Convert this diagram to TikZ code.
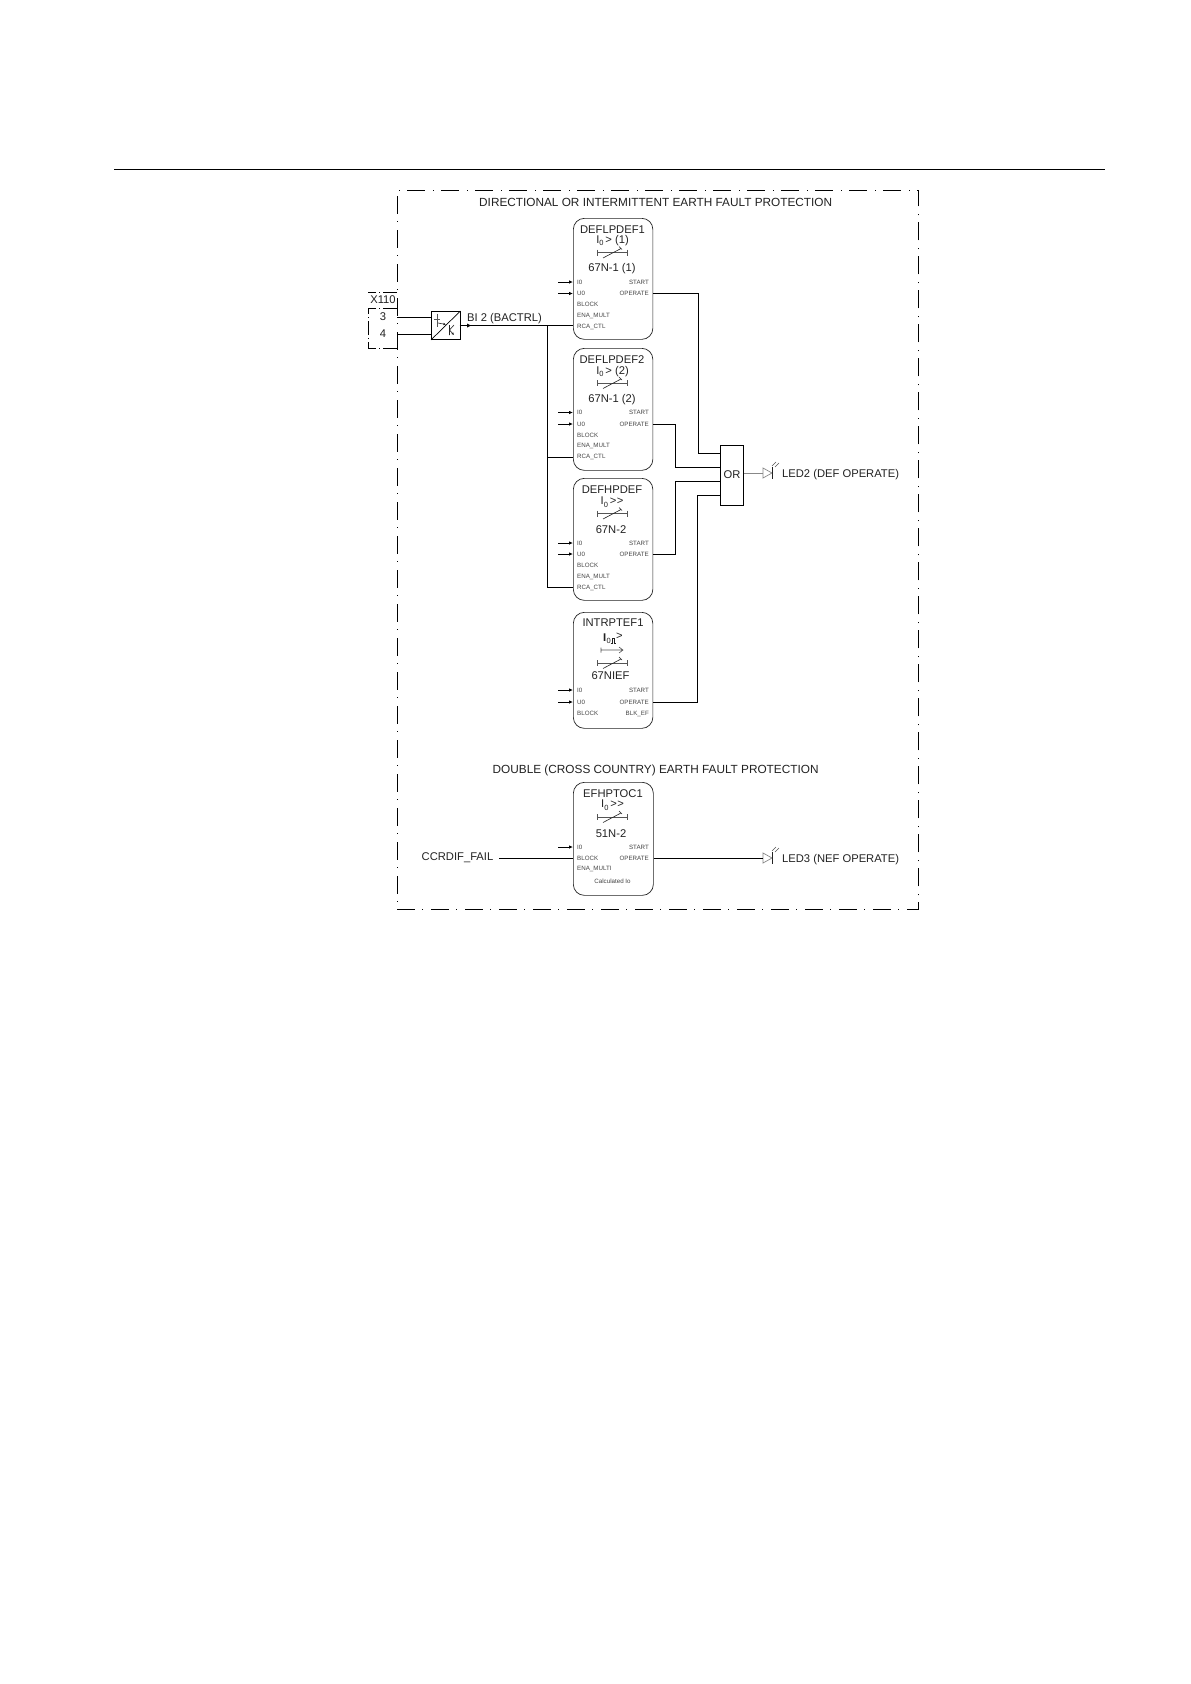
\documentclass[tikz,border=0pt]{standalone}
\usepackage{fontspec}
\setmainfont{Liberation Sans}
\usetikzlibrary{arrows.meta}
\definecolor{inkc}{HTML}{222222}
\definecolor{smallc}{HTML}{444444}
\definecolor{symc}{HTML}{555555}
\definecolor{ledc}{HTML}{888888}
\tikzset{
  wire/.style={draw=black,line width=0.85pt},
  thinwire/.style={draw=symc,line width=0.6pt},
  ledwire/.style={draw=ledc,line width=0.7pt},
  blockbox/.style={draw=inkc,line width=0.7pt,rounded corners=11pt,minimum width=79.5pt,inner sep=0pt,anchor=north west},
  framebox/.style={draw=black,line width=0.9pt,dash pattern=on 18pt off 7pt on 1pt off 8pt,inner sep=0pt,anchor=north west,minimum width=521pt,minimum height=719.5pt},
  txt/.style={font=\fontsize{11.2}{12}\selectfont,text=inkc,inner sep=0pt},
  headtxt/.style={font=\fontsize{11.8}{13}\selectfont,text=inkc,inner sep=0pt,anchor=west},
  leftport/.style={font=\fontsize{6.2}{7}\selectfont,text=smallc,inner sep=0pt,anchor=west},
  rightport/.style={font=\fontsize{6.2}{7}\selectfont,text=smallc,inner sep=0pt,anchor=east},
  feed/.style={draw=black,line width=0.85pt,-{Latex[length=4pt,width=3.5pt]}},
}
\newcommand{\relaysym}[2]{%
  \draw[thinwire] (#1-15,#2-3)--(#1-15,#2+3) (#1+15,#2-3)--(#1+15,#2+3) (#1-15,#2)--(#1+15,#2);
  \draw[draw=inkc,line width=0.6pt] (#1-9,#2+5.5)--(#1+9,#2-4) (#1+7,#2-6)--(#1+10,#2-3);}
\newcommand{\ledsym}[2]{%
  \draw[ledwire] (#1,#2-5)--(#1,#2+5)--(#1+9,#2)--cycle;
  \draw[draw=inkc,line width=0.7pt] (#1+9,#2-6)--(#1+9,#2+6);
  \draw[thinwire] (#1+9,#2-7)--(#1+13,#2-11) (#1+12,#2-6)--(#1+16,#2-10);}
\newcommand{\iosub}[1]{I\raisebox{-2.5pt}{\fontsize{7.5}{8}\selectfont 0}\,#1}
\newcommand{\twogt}{{>}\kern0.5pt{>}}
\begin{document}
\begin{tikzpicture}[x=1pt,y=-1pt]
\useasboundingbox (0,0) rectangle (1191,1684);
\fill[white] (0,0) rectangle (1191,1684);
\draw[line width=1pt] (114,169.5)--(1105,169.5);

% frame and titles
\node[framebox] (frame) at (397,189.5) {};
\node[headtxt] (title1) at (479,202.5) {DIRECTIONAL OR INTERMITTENT EARTH FAULT PROTECTION};
\node[headtxt] (title2) at (492.5,770) {DOUBLE (CROSS COUNTRY) EARTH FAULT PROTECTION};

% X110 terminal
\draw[draw=black,line width=0.7pt,dash pattern=on 14pt off 3pt on 1pt off 3pt] (397,292)--(368,292);
\draw[draw=black,line width=0.7pt,dash pattern=on 14pt off 3pt on 1pt off 3pt] (397,308)--(368,308)--(368,348)--(397,348);
\node[txt] (x110) at (383,300) {X110};
\node[txt] (t3) at (383,317) {3};
\node[txt] (t4) at (383,334) {4};
\coordinate (t3e) at (397,317);
\coordinate (t4e) at (397,334.5);

% optocoupler
\node[draw=black,line width=0.9pt,minimum width=28.5pt,minimum height=28pt,inner sep=0pt,anchor=north west] (opto) at (431,311) {};
\draw[line width=0.7pt] (opto.south west)--(opto.north east);
\draw[draw=symc,line width=0.6pt] (434,319.5)--(440,319.5) (437.5,313.5)--(437.5,326.5);
\draw[draw=inkc,line width=0.6pt,-{Latex[length=2.5pt,width=2.5pt]}] (438,323)--(446,324.5);
\draw[draw=inkc,line width=0.6pt] (449.5,325)--(449.5,335) (449.5,330)--(454,325);
\draw[draw=inkc,line width=0.6pt,-{Latex[length=2.5pt,width=2.5pt]}] (449.5,330)--(454,335);
\draw[wire] (t3e)--(opto.west |- t3e);
\draw[wire] (t4e)--(opto.west |- t4e);
\node[txt,anchor=west] (bi2) at (467,318.5) {BI 2 (BACTRL)};

% DEFLPDEF1
\node[blockbox,minimum height=121pt] (d1) at (573,218) {};
\node[txt] (d1t) at (612.5,229.5) {DEFLPDEF1};
\node[txt] (d1i) at (612.5,240.5) {\iosub{> (1)}};
\relaysym{612}{252.5}
\node[txt] (d1n) at (612,269) {67N-1 (1)};
\node[leftport] (d1a) at (577,282) {I0};
\node[leftport] (d1b) at (577,293.5) {U0};
\node[leftport] at (577,304.5) {BLOCK};
\node[leftport] at (577,316) {ENA\_MULT};
\node[leftport] (d1c) at (577,327) {RCA\_CTL};
\node[rightport] at (649,282) {START};
\node[rightport] (d1o) at (649,293.5) {OPERATE};

% DEFLPDEF2
\node[blockbox,minimum height=122pt] (d2) at (573,348) {};
\node[txt] (d2t) at (612,360) {DEFLPDEF2};
\node[txt] (d2i) at (612.5,371.5) {\iosub{> (2)}};
\relaysym{612}{383}
\node[txt] (d2n) at (612,399.5) {67N-1 (2)};
\node[leftport] (d2a) at (577,412.5) {I0};
\node[leftport] (d2b) at (577,424) {U0};
\node[leftport] at (577,435) {BLOCK};
\node[leftport] at (577,446) {ENA\_MULT};
\node[leftport] (d2c) at (577,457) {RCA\_CTL};
\node[rightport] at (649,412.5) {START};
\node[rightport] (d2o) at (649,424) {OPERATE};

% DEFHPDEF
\node[blockbox,minimum height=122pt] (d3) at (573,478) {};
\node[txt] (d3t) at (612,490) {DEFHPDEF};
\node[txt] (d3i) at (612,502) {\iosub{\twogt}};
\relaysym{612}{513.5}
\node[txt] (d3n) at (611,530) {67N-2};
\node[leftport] (d3a) at (577,543) {I0};
\node[leftport] (d3b) at (577,554) {U0};
\node[leftport] at (577,565.5) {BLOCK};
\node[leftport] at (577,576.5) {ENA\_MULT};
\node[leftport] (d3c) at (577,587.5) {RCA\_CTL};
\node[rightport] at (649,543) {START};
\node[rightport] (d3o) at (649,554) {OPERATE};

% INTRPTEF1
\node[blockbox,minimum height=116pt] (d4) at (573,612) {};
\node[txt] (d4t) at (613,623) {INTRPTEF1};
\node[txt,anchor=west] (d4i) at (603,638) {\bfseries I};
\node[anchor=west,inner sep=0pt,font=\fontsize{7.5}{8}\selectfont,text=inkc] (d4z) at (606.5,641) {0};
\draw[draw=inkc,line width=0.6pt] (610.5,643)--(612,643)--(612,638.5)--(614.5,638.5)--(614.5,643)--(616,643);
\node[txt,anchor=west] (d4g) at (616,636.5) {>};
\draw[thinwire] (601,647.5)--(601,652.5) (601,650)--(623,650) (619,647)--(623,650)--(619,653);
\relaysym{612}{663}
\node[txt] (d4n) at (610.5,676) {67NIEF};
\node[leftport] (d4a) at (577,690) {I0};
\node[leftport] (d4b) at (577,702) {U0};
\node[leftport] at (577,713.5) {BLOCK};
\node[rightport] at (649,690) {START};
\node[rightport] (d4o) at (649,702) {OPERATE};
\node[rightport] at (649,713.5) {BLK\_EF};

% EFHPTOC1
\node[blockbox,minimum width=80pt,minimum height=113pt] (d5) at (573,782) {};
\node[txt] (d5t) at (613,794) {EFHPTOC1};
\node[txt] (d5i) at (612.5,805) {\iosub{\twogt}};
\relaysym{612}{817}
\node[txt] (d5n) at (611,834) {51N-2};
\node[leftport] (d5a) at (577,847) {I0};
\node[leftport] (d5b) at (577,858) {BLOCK};
\node[leftport] at (577,869) {ENA\_MULTI};
\node[font=\fontsize{6.2}{7}\selectfont,text=smallc,inner sep=0pt] (d5k) at (612.5,881) {Calculated Io};
\node[rightport] at (649,847) {START};
\node[rightport] (d5o) at (649,858) {OPERATE};
\node[txt,anchor=east] (ccr) at (493.5,858) {CCRDIF\_FAIL};

% OR gate
\node[draw=black,line width=0.9pt,minimum width=23pt,minimum height=60pt,inner sep=0pt,anchor=north west,font=\fontsize{11.2}{12}\selectfont,text=inkc] (orgate) at (720,444.5) {OR};
\coordinate (or1) at (720,453.5);
\coordinate (or2) at (720,467);
\coordinate (or3) at (720,481);
\coordinate (or4) at (720,495);

% LEDs
\coordinate (led2) at (763,473);
\coordinate (led3) at (763,858);
\ledsym{763}{473}
\ledsym{763}{858}
\node[txt,anchor=west] (led2t) at (782,474.5) {LED2 (DEF OPERATE)};
\node[txt,anchor=west] (led3t) at (782,859.5) {LED3 (NEF OPERATE)};

% BI bus
\coordinate (bus) at (547.5,325.5);
\coordinate (biout) at (459.5,325.5);
\draw[wire] (biout)--(bus)--(d1.west |- bus);
\draw[wire] (bus)|-(d2.west |- d2c);
\draw[wire] (bus)|-(d3.west |- d3c);
\fill[black] (467,323.5)--(471,325.5)--(467,327.5)--cycle;

% analogue feeds
\foreach \blk/\port in {d1/d1a,d1/d1b,d2/d2a,d2/d2b,d3/d3a,d3/d3b,d4/d4a,d4/d4b,d5/d5a}{
  \draw[feed] ([xshift=-15pt]\blk.west |- \port)--(\blk.west |- \port);
}

% outputs to OR
\draw[wire] (d1.east |- d1o)-|(698,453.5)--(or1);
\draw[wire] (d2.east |- d2o)-|(675,467)--(or2);
\draw[wire] (d3.east |- d3o)-|(675,481)--(or3);
\draw[wire] (d4.east |- d4o)-|(697,495)--(or4);
\draw[ledwire] (orgate.east |- led2)--(led2);

% EFHPTOC1 connections
\draw[wire] (ccr.east)++(5.5,0)--(d5.west |- d5b);
\draw[wire] (d5.east |- d5o)--(led3);
\end{tikzpicture}
\end{document}
